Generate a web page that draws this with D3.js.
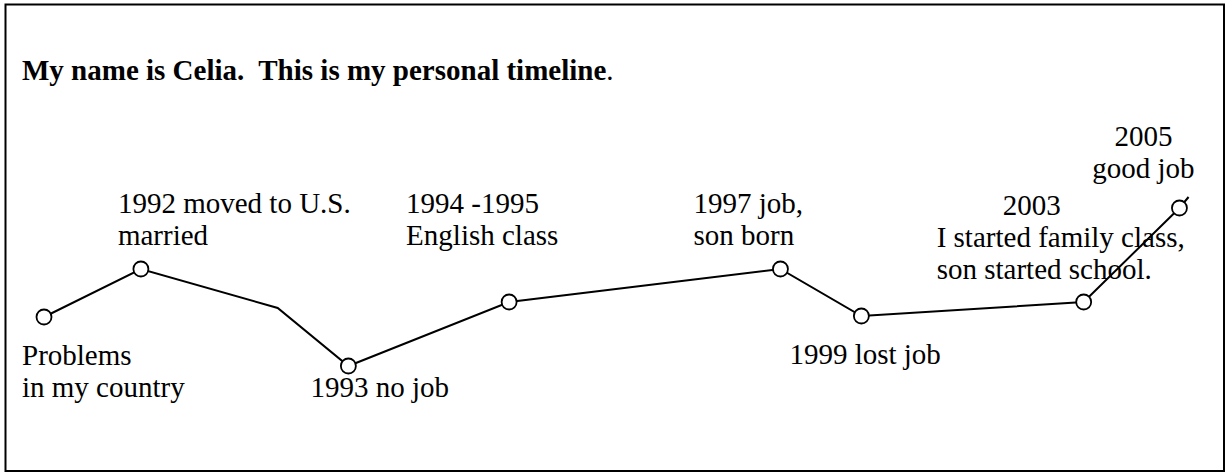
<!DOCTYPE html>
<html>
<head>
<meta charset="utf-8">
<script src="https://cdn.jsdelivr.net/npm/d3@7"></script>
<style>
  body { margin: 0; background: #fff; }
  svg { display: block; font-family: "Liberation Serif", "Times New Roman", serif; }
</style>
</head>
<body>
<svg id="chart" width="1226" height="473"></svg>
<script>
// Timeline vertices: position along the life line, and how good things felt
const position = [0, 8.5, 20.5, 26.7, 40.8, 64.6, 71.7, 91.2, 99.6, 100.4]
const level    = [4.15, 6.55, 4.6, 1.7, 4.9, 6.55, 4.2, 4.9, 9.6, 10.15]
const isEvent  = [true, true, false, true, true, true, true, true, true, false]

// Event captions (one entry per vertex, null = no caption)
const captions = [
  ["Problems", "in my country"],
  ["1992 moved to U.S.", "married"],
  null,
  ["1993 no job"],
  ["1994 -1995", "English class"],
  ["1997 job,", "son born"],
  ["1999 lost job"],
  ["2003", "I started family class,", "son started school."],
  ["2005", "good job"],
  null
]

const title = "My name is Celia.  This is my personal timeline"

/* Layout
-------------------------------------------------------------------------------------------------*/
const width = 1226, height = 473
const lineHeight = 32
// caption placement relative to its vertex: dx, dy (first baseline), anchor, per-line indent
const captionLayout = [
  {dx: -22, dy: 48},
  {dx: -23, dy: -56},
  null,
  {dx: -38, dy: 31},
  {dx: -103, dy: -89},
  {dx: -87, dy: -56},
  {dx: -72, dy: 48},
  {dx: -147, dy: -87, indent: [66, 0, 0]},
  {dx: -36, dy: -62, anchor: "middle"},
  null
]

const x = d3.scaleLinear().domain([0, 100]).range([44, 1184])
const y = d3.scaleLinear().domain([0, 10]).range([400, 200])

const svg = d3.select("#chart")

// Cadre
svg.append("rect")
  .attr("x", 5.5).attr("y", 4.5)
  .attr("width", 1218.5).attr("height", 466.5)
  .style("fill", "none")
  .style("stroke", "#000")
  .style("stroke-width", 2)

// Titre
const t = svg.append("text")
  .attr("x", 22).attr("y", 80)
  .style("font-size", "29px")
  .style("fill", "#000")
t.append("tspan").style("font-weight", "bold").attr("xml:space", "preserve").text(title)
t.append("tspan").text(".")

const pts = position.map((p, i) => ({x: p, y: level[i], event: isEvent[i], caption: captions[i], layout: captionLayout[i]}))

// Ligne
const line = d3.line().x(d => x(d.x)).y(d => y(d.y))
svg.append("path")
  .datum(pts)
  .attr("d", line)
  .style("fill", "none")
  .style("stroke", "#000")
  .style("stroke-width", 2)
  .style("stroke-linejoin", "miter")

// Points
svg.append("g")
  .selectAll("circle")
  .data(pts.filter(d => d.event))
  .enter()
  .append("circle")
  .attr("cx", d => x(d.x))
  .attr("cy", d => y(d.y))
  .attr("r", 7.5)
  .style("fill", "#fff")
  .style("stroke", "#000")
  .style("stroke-width", 1.8)

// Légendes
pts.filter(d => d.caption).forEach(d => {
  const L = d.layout
  const tx = svg.append("text")
    .style("font-size", "29px")
    .style("fill", "#000")
    .style("text-anchor", L.anchor || "start")
  d.caption.forEach((s, k) => {
    tx.append("tspan")
      .attr("x", x(d.x) + L.dx + (L.indent ? L.indent[k] : 0))
      .attr("y", y(d.y) + L.dy + k * lineHeight)
      .text(s)
  })
})
</script>
</body>
</html>
